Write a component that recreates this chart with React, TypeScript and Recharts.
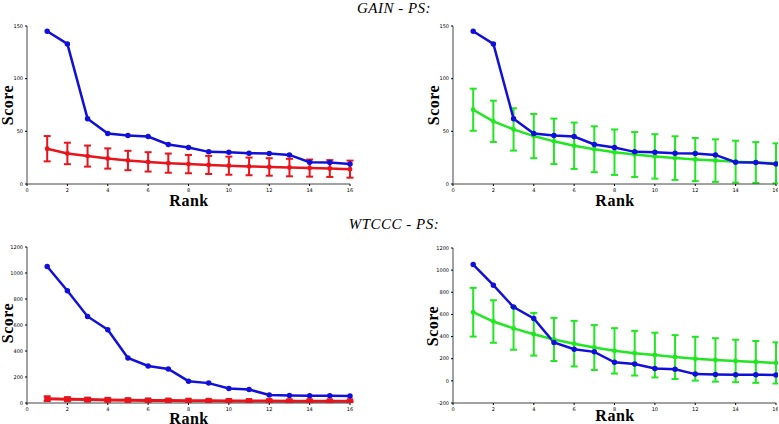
import React from 'react'
import { LineChart, Line, XAxis, YAxis, ErrorBar } from 'recharts'

// ranks 1..16
const ranks = [1, 2, 3, 4, 5, 6, 7, 8, 9, 10, 11, 12, 13, 14, 15, 16]

// GAIN - PS
const gainObserved = [145, 133, 62, 48, 46, 45, 37.5, 34.6, 30.5, 30.2, 29.2, 28.9, 27.6, 20.7, 20.3, 19.1]
const gainNullA = [33.5, 29, 26.5, 24.2, 22.3, 21, 19.8, 18.9, 18.1, 17.4, 16.7, 16.2, 15.6, 15.1, 14.7, 14.1]
const gainNullAErr = [12, 10.2, 10, 9.6, 9.2, 9.2, 9.1, 8.7, 8.6, 8.6, 8.4, 8.3, 8.3, 8.1, 8, 8.1]
const gainNullB = [70.5, 59.5, 51.8, 45.5, 40.5, 36.3, 33, 30.2, 28, 26.2, 24.6, 23.2, 22.2, 21.2, 20.4, 19.6]
const gainNullBErr = [20, 19.6, 20.1, 21, 21.6, 22, 21.8, 21.6, 21.3, 21.1, 20.7, 20.5, 20.2, 19.9, 19.4, 19]

// WTCCC - PS
const wtcccObserved = [1050, 864, 666, 564, 346, 285, 262, 168, 153, 112, 104, 61, 58, 56, 56, 53]
const wtcccNullA = [33, 29, 26, 24, 22, 20, 19, 18, 17, 16, 15, 15, 14, 14, 13, 13]
const wtcccNullAErr = [18, 14, 12, 11, 10, 9, 9, 8, 8, 8, 7, 7, 7, 7, 6, 6]
const wtcccNullB = [620, 536, 474, 421, 374, 336, 301, 271, 250, 233, 215, 200, 189, 180, 171, 162]
const wtcccNullBErr = [220, 192, 193, 193, 195, 206, 203, 205, 202, 202, 198, 198, 196, 192, 189, 186]

const gainTicks = [0, 50, 100, 150]
const wtcccTicksA = [0, 200, 400, 600, 800, 1000, 1200]
const wtcccTicksB = [-200, 0, 200, 400, 600, 800, 1000, 1200]
const rankTicks = [0, 2, 4, 6, 8, 10, 12, 14, 16]

const BLUE = '#1010d8'
const RED = '#e8141c'
const GREEN = '#22e622'

const gainData = ranks.map((r, i) => ({
  rank: r,
  obs: gainObserved[i],
  a: gainNullA[i],
  aErr: gainNullAErr[i],
  b: gainNullB[i],
  bErr: gainNullBErr[i],
}))

const wtcccData = ranks.map((r, i) => ({
  rank: r,
  obs: wtcccObserved[i],
  a: wtcccNullA[i],
  aErr: wtcccNullAErr[i],
  b: wtcccNullB[i],
  bErr: wtcccNullBErr[i],
}))

const tickStyle = { fontSize: 5, fill: '#000', fontFamily: 'DejaVu Sans' }
const serif = '"Liberation Serif", "DejaVu Serif", serif'

const SquareDot = (props: any) => {
  const { cx, cy } = props
  if (cx == null || cy == null) return null
  return <rect x={cx - 3} y={cy - 3} width={6} height={6} fill={RED} />
}

const Panel = (props: any) => {
  const { data, series, errKey, color, domain, ticks, left, top, margin, square } = props
  return (
    <div style={{ position: 'absolute', left, top }}>
      <LineChart width={389} height={212} data={data} margin={margin} style={{ overflow: 'visible' }}>
        <XAxis
          dataKey="rank"
          type="number"
          domain={[0, 16]}
          ticks={rankTicks}
          height={12}
          tick={tickStyle}
          tickSize={2}
          tickLine={{ stroke: '#000' }}
          axisLine={{ stroke: '#444' }}
        />
        <YAxis
          type="number"
          domain={domain}
          ticks={ticks}
          width={20}
          tick={tickStyle}
          tickSize={2}
          tickLine={{ stroke: '#000' }}
          axisLine={{ stroke: '#444' }}
          allowDataOverflow
        />
        <Line
          dataKey={series}
          stroke={color}
          strokeWidth={square ? 3 : 2.5}
          dot={square ? <SquareDot /> : { r: 1.2, fill: color, stroke: color }}
          isAnimationActive={false}
        >
          <ErrorBar dataKey={errKey} width={3.5} strokeWidth={2} stroke={color} direction="y" />
        </Line>
        <Line
          dataKey="obs"
          stroke={BLUE}
          strokeWidth={2.5}
          dot={{ r: 1.5, fill: BLUE, stroke: BLUE }}
          isAnimationActive={false}
        />
      </LineChart>
    </div>
  )
}

const AxisText = ({ x, y, text, rotate }: any) => (
  <div
    style={{
      position: 'absolute',
      left: x,
      top: y,
      transform: `translate(-50%, -50%)${rotate ? ' rotate(-90deg)' : ''}`,
      fontFamily: serif,
      fontWeight: 'bold',
      fontSize: 16,
      lineHeight: '16px',
      letterSpacing: 0.5,
      whiteSpace: 'nowrap',
      color: '#000',
    }}
  >
    {text}
  </div>
)

const Title = ({ y, text }: any) => (
  <div
    style={{
      position: 'absolute',
      left: 394,
      top: y,
      transform: 'translate(-50%, -50%)',
      fontFamily: serif,
      fontStyle: 'italic',
      fontSize: 15,
      letterSpacing: 0.5,
      whiteSpace: 'nowrap',
      color: '#000',
    }}
  >
    {text}
  </div>
)

export default function App() {
  return (
    <div style={{ position: 'absolute', left: 0, top: 0, width: 779, height: 424, background: '#fff', overflow: 'hidden' }}>
      <Panel
        data={gainData} series="a" errKey="aErr" color={RED}
        domain={[0, 150]} ticks={gainTicks} left={0} top={0}
        margin={{ top: 26, right: 39, bottom: 16, left: 7 }}
      />
      <Panel
        data={gainData} series="b" errKey="bErr" color={GREEN}
        domain={[0, 150]} ticks={gainTicks} left={389} top={0}
        margin={{ top: 26, right: 2, bottom: 16, left: 44 }}
      />
      <Panel
        data={wtcccData} series="a" errKey="aErr" color={RED} square
        domain={[0, 1200]} ticks={wtcccTicksA} left={0} top={212}
        margin={{ top: 35, right: 39, bottom: 9, left: 7 }}
      />
      <Panel
        data={wtcccData} series="b" errKey="bErr" color={GREEN}
        domain={[-200, 1200]} ticks={wtcccTicksB} left={389} top={212}
        margin={{ top: 36, right: 2, bottom: 9, left: 44 }}
      />

      <Title y={8} text="GAIN - PS:" />
      <Title y={224} text="WTCCC - PS:" />

      <AxisText x={8} y={105} text="Score" rotate />
      <AxisText x={434} y={105} text="Score" rotate />
      <AxisText x={8} y={323} text="Score" rotate />
      <AxisText x={433} y={326} text="Score" rotate />

      <AxisText x={189} y={201} text="Rank" />
      <AxisText x={615} y={201} text="Rank" />
      <AxisText x={189} y={419} text="Rank" />
      <AxisText x={615} y={416} text="Rank" />
    </div>
  )
}
